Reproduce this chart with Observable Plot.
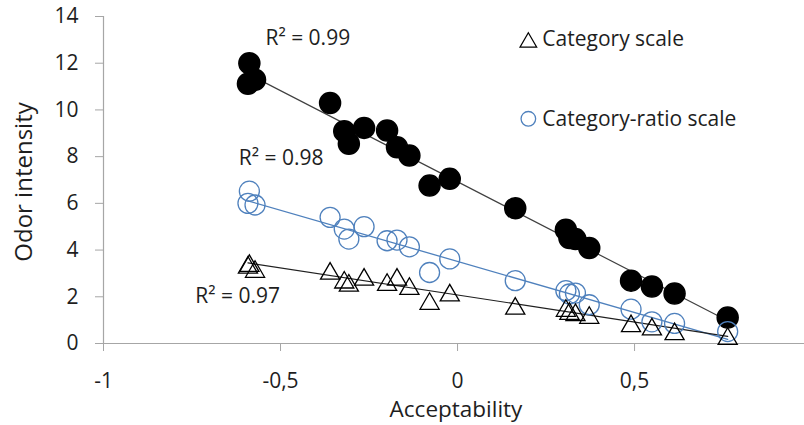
<!DOCTYPE html>
<html>
<head>
<meta charset="utf-8">
<script src="https://cdn.jsdelivr.net/npm/d3@7"></script>
<script src="https://cdn.jsdelivr.net/npm/@observablehq/plot@0.6"></script>
<style>
  html, body { margin: 0; padding: 0; background: #ffffff; }
  #chart { width: 804px; height: 425px; }
</style>
</head>
<body>
<div id="chart"></div>
<script>
// Acceptability (x) shared by the three series
const acceptability = [-0.588, -0.592, -0.572, -0.360, -0.320, -0.307, -0.264, -0.199, -0.171, -0.136, -0.079, -0.022, 0.163, 0.306, 0.316, 0.333, 0.372, 0.490, 0.549, 0.613, 0.763];
// Filled black circles (odor intensity, magnitude estimation)
const filledSeries = [12.0, 11.12, 11.29, 10.30, 9.09, 8.55, 9.23, 9.12, 8.40, 8.05, 6.76, 7.05, 5.79, 4.87, 4.52, 4.47, 4.09, 2.69, 2.44, 2.14, 1.11];
// Category-ratio scale (open blue circles)
const categoryRatio = [6.52, 6.00, 5.93, 5.40, 4.90, 4.47, 5.00, 4.40, 4.43, 4.14, 3.04, 3.62, 2.69, 2.26, 2.12, 2.16, 1.66, 1.47, 0.93, 0.86, 0.51];
// Category scale (open triangles)
const categoryScale = [3.45, 3.38, 3.20, 3.12, 2.74, 2.61, 2.86, 2.64, 2.86, 2.47, 1.83, 2.19, 1.62, 1.53, 1.40, 1.35, 1.23, 0.87, 0.73, 0.53, 0.33];

const xTicks = [-1, -0.5, 0, 0.5];
const yTicks = [0, 2, 4, 6, 8, 10, 12, 14];

const r2Labels = ["R² = 0.99", "R² = 0.98", "R² = 0.97"];
const r2X = [-0.423, -0.498, -0.621];
const r2Y = [13.06, 7.92, 2.04];

const legendLabels = ["Category scale", "Category-ratio scale"];
const legendX = [0.2, 0.2];
const legendY = [13.02, 9.62];

const blue = "#4f81bd";
const axisGray = "#a6a6a6";
const ink = "#1e1e1e";

const filled = acceptability.map((x, i) => ({x, y: filledSeries[i]}));
const ratio = acceptability.map((x, i) => ({x, y: categoryRatio[i]}));
const cat = acceptability.map((x, i) => ({x, y: categoryScale[i]}));
const r2 = r2Labels.map((t, i) => ({t, x: r2X[i], y: r2Y[i]}));
const legend = legendLabels.map((t, i) => ({t, x: legendX[i], y: legendY[i]}));

const chart = Plot.plot({
  width: 804,
  height: 425,
  marginLeft: 103,
  marginRight: 0,
  marginTop: 16,
  marginBottom: 82,
  style: {fontFamily: "'Open Sans', sans-serif", fontSize: "21px", color: ink, background: "#ffffff"},
  x: {domain: [-1, 0.98]},
  y: {domain: [0, 14]},
  marks: [
    Plot.ruleX([-1], {stroke: axisGray, strokeWidth: 1.2}),
    Plot.ruleY([0], {stroke: axisGray, strokeWidth: 1.2}),
    Plot.axisY({ticks: yTicks, tickSize: 8, stroke: axisGray, label: null, tickFormat: () => ""}),
    Plot.text(yTicks, {frameAnchor: "left", y: d => d, text: d => String(d), textAnchor: "end", lineAnchor: "middle", dx: -25, fill: ink}),
    Plot.axisX({ticks: xTicks, tickSize: 8, tickPadding: 22, stroke: axisGray, fill: ink, label: null, tickFormat: d => String(d).replace(".", ",")}),
    Plot.text(["Odor intensity"], {frameAnchor: "left", textAnchor: "middle", lineAnchor: "middle", rotate: -90, dx: -79, dy: 2, fontSize: 24, fill: ink}),
    Plot.text(["Acceptability"], {frameAnchor: "bottom", textAnchor: "middle", lineAnchor: "middle", dy: 66, dx: 2, fontSize: 22.5, fill: ink}),
    Plot.linearRegressionY(filled, {x: "x", y: "y", ci: 0, stroke: "#404040", strokeWidth: 1.2}),
    Plot.linearRegressionY(ratio, {x: "x", y: "y", ci: 0, stroke: blue, strokeWidth: 1.3}),
    Plot.linearRegressionY(cat, {x: "x", y: "y", ci: 0, stroke: "#202020", strokeWidth: 1.2}),
    Plot.dot(filled, {x: "x", y: "y", r: 10.5, fill: "#000000", stroke: "#000000"}),
    Plot.dot(ratio, {x: "x", y: "y", r: 10, fill: "none", stroke: blue, strokeWidth: 1.3}),
    Plot.dot(cat, {x: "x", y: "y", symbol: "triangle", r: 7.1, dy: 3, fill: "none", stroke: "#000000", strokeWidth: 1.3}),
    Plot.text(r2, {x: "x", y: "y", text: "t", fill: ink}),
    Plot.dot(legend.slice(0, 1), {x: "x", y: "y", symbol: "triangle", r: 6.2, dy: 3, fill: "none", stroke: "#000000", strokeWidth: 1.2}),
    Plot.dot(legend.slice(1, 2), {x: "x", y: "y", r: 7.3, fill: "none", stroke: blue, strokeWidth: 1.3}),
    Plot.text(legend, {x: "x", y: "y", text: "t", textAnchor: "start", dx: 14, fill: ink})
  ]
});
document.getElementById("chart").appendChild(chart);
</script>
</body>
</html>
